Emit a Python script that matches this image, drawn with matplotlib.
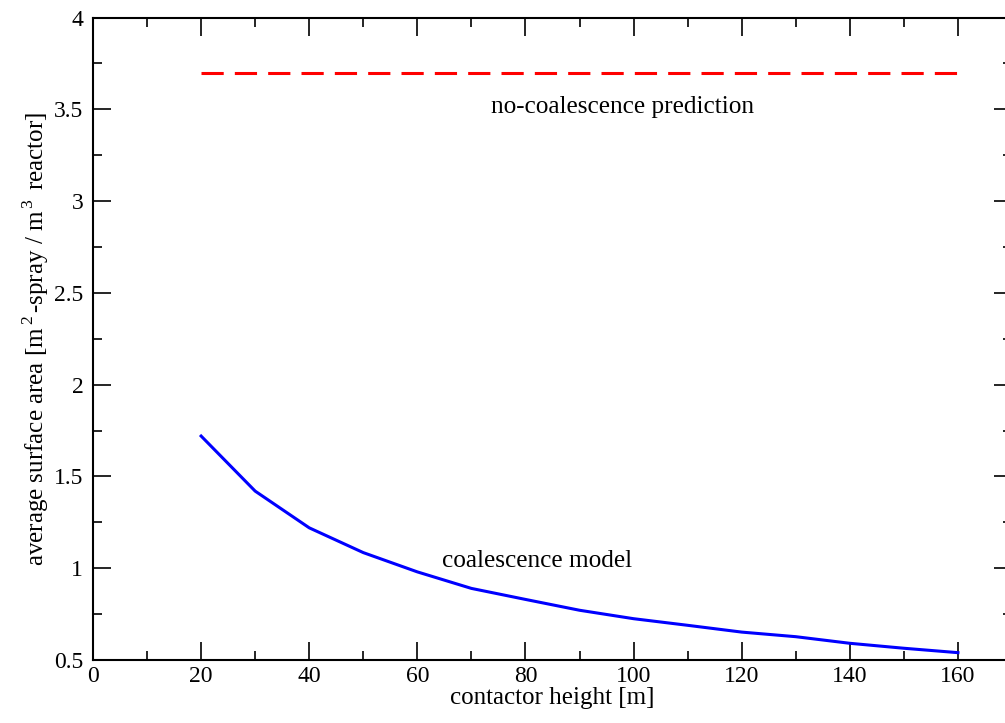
import matplotlib
matplotlib.use("Agg")
import matplotlib.pyplot as plt
from matplotlib.ticker import MultipleLocator

plt.rcParams['font.family'] = ['Liberation Serif', 'DejaVu Serif']
plt.rcParams['mathtext.fontset'] = 'custom'
plt.rcParams['mathtext.rm'] = 'Liberation Serif'
plt.rcParams['lines.scale_dashes'] = False

# contactor height [m] vs. average surface area
height = [20, 30, 40, 50, 60, 70, 80, 90, 100, 110, 120, 130, 140, 150, 160]
area_coal = [1.72, 1.42, 1.22, 1.085, 0.98, 0.89, 0.83, 0.771, 0.725, 0.689,
             0.652, 0.627, 0.591, 0.564, 0.540]
height_nocoal = [20, 160]
area_nocoal = [3.70, 3.70]

fig = plt.figure(figsize=(10.05, 7.23), dpi=100)
ax = fig.add_axes([93/1005, 63/723, (1012-93)/1005, (660.5-18)/723])

ax.plot(height, area_coal, color='#0000ff', lw=2.2)
ax.plot(height_nocoal, area_nocoal, color='#ff0000', lw=2.2, dashes=(16, 8))

ax.text(73.7, 3.51, 'no-coalescence prediction', fontsize=18.2, va='center')
ax.text(64.6, 1.04, 'coalescence model', fontsize=18.2, va='center')

ax.set_xlim(0, 170)
ax.set_ylim(0.5, 4)
ax.xaxis.set_major_locator(MultipleLocator(20))
ax.xaxis.set_minor_locator(MultipleLocator(10))
ax.yaxis.set_major_locator(MultipleLocator(0.5))
ax.yaxis.set_minor_locator(MultipleLocator(0.25))
ax.xaxis.set_major_formatter(plt.FuncFormatter(lambda v, p: '%g' % v))
ax.yaxis.set_major_formatter(plt.FuncFormatter(lambda v, p: '%g' % v))
ax.tick_params(which='both', direction='in', top=True, right=True,
               width=1.2, labelsize=17)
ax.tick_params(which='major', length=13, pad=4)
ax.tick_params(axis='y', which='major', pad=7)
ax.tick_params(which='minor', length=6.5)
for s in ax.spines.values():
    s.set_linewidth(1.5)

ax.set_xlabel('contactor height [m]', fontsize=18, labelpad=0)
ax.set_ylabel(r'average surface area [m$^{\,2\,}$-spray / m$^{\,3\,}$ reactor]',
              fontsize=18, labelpad=2)

fig.savefig('out.png', dpi=100)
